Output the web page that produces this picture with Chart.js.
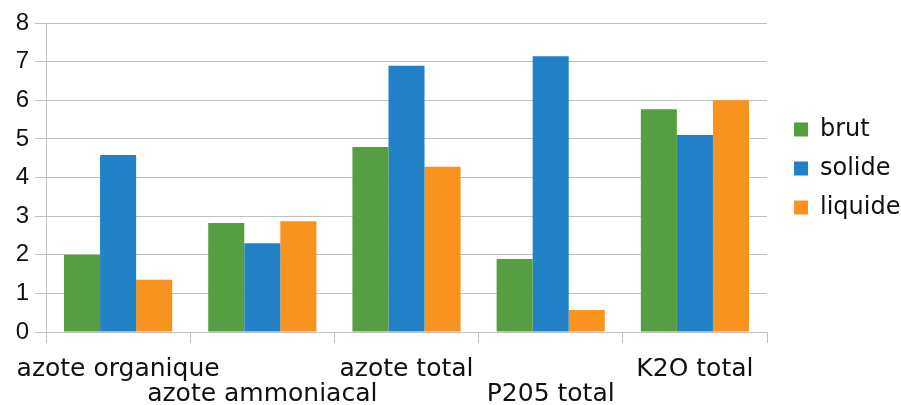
<!DOCTYPE html>
<html>
<head>
<meta charset="utf-8">
<script src="https://cdn.jsdelivr.net/npm/chart.js@4/dist/chart.umd.min.js"></script>
<style>
  html, body { margin: 0; padding: 0; background: #ffffff; }
  #wrap { width: 901px; height: 405px; }
</style>
</head>
<body>
<div id="wrap"><canvas id="chart" width="901" height="405"></canvas></div>
<script>
// Nutrient content per fraction
const categories = ['azote organique', 'azote ammoniacal', 'azote total', 'P205 total', 'K2O total'];
const brut    = [2.00, 2.82, 4.79, 1.89, 5.77];
const solide  = [4.58, 2.30, 6.89, 7.14, 5.10];
const liquide = [1.35, 2.87, 4.28, 0.57, 6.00];
const yTicks  = [0, 1, 2, 3, 4, 5, 6, 7, 8];

const LABEL_FONT = { family: 'DejaVu Sans', size: 25, lineHeight: 1.0 };
const TICK_FONT  = { family: 'Liberation Sans', size: 24 };
const LEGEND_FONT = { family: 'DejaVu Sans', size: 24 };
const GRID = '#c0c0c0';
const TEXT = '#111111';

// nudge the legend block slightly above the plot's vertical centre
const legendLift = {
  id: 'legendLift',
  afterLayout(chart) {
    const lg = chart.legend;
    if (lg) { lg.top -= 9; lg.bottom -= 9; }
  }
};

new Chart(document.getElementById('chart'), {
  type: 'bar',
  data: {
    labels: categories,
    datasets: [
      { label: 'brut',    data: brut,    backgroundColor: '#559e42' },
      { label: 'solide',  data: solide,  backgroundColor: '#2381c7' },
      { label: 'liquide', data: liquide, backgroundColor: '#f7931e' }
    ]
  },
  plugins: [legendLift],
  options: {
    responsive: false,
    animation: false,
    layout: { padding: { top: 23, right: 0, left: 0, bottom: 0 } },
    datasets: { bar: { categoryPercentage: 0.75, barPercentage: 1.0 } },
    scales: {
      x: {
        offset: true,
        grid: {
          offset: true,
          drawOnChartArea: true,
          color: ctx => (ctx.index === categories.length ? GRID : 'rgba(0,0,0,0)'),
          tickColor: GRID,
          tickLength: 11,
          lineWidth: 1
        },
        border: { color: GRID },
        ticks: {
          font: LABEL_FONT,
          color: TEXT,
          maxRotation: 0,
          minRotation: 0,
          autoSkip: false,
          padding: 14,
          callback: (v, i) => (i % 2 ? ['', categories[i]] : categories[i])
        },
        afterFit: s => { s.height = 73; s.paddingLeft = 0; s.paddingRight = 0; }
      },
      y: {
        min: yTicks[0],
        max: yTicks[yTicks.length - 1],
        afterBuildTicks: s => { s.ticks = yTicks.map(v => ({ value: v })); },
        grid: { color: GRID, tickColor: GRID, tickLength: 11, lineWidth: 1 },
        border: { color: GRID },
        ticks: { font: TICK_FONT, color: TEXT, padding: 6 },
        afterFit: s => { s.width = 46; }
      },
      // spacer between the plot frame and the legend
      gap: {
        position: 'right',
        display: true,
        grid: { display: false, drawTicks: false },
        border: { display: false },
        ticks: { display: false },
        afterFit: s => { s.width = 12; }
      }
    },
    plugins: {
      legend: {
        position: 'right',
        fullSize: false,
        maxWidth: 122,
        labels: {
          font: LEGEND_FONT,
          color: TEXT,
          boxWidth: 14,
          boxHeight: 14,
          padding: 15
        }
      },
      tooltip: { enabled: false }
    }
  }
});
</script>
</body>
</html>
